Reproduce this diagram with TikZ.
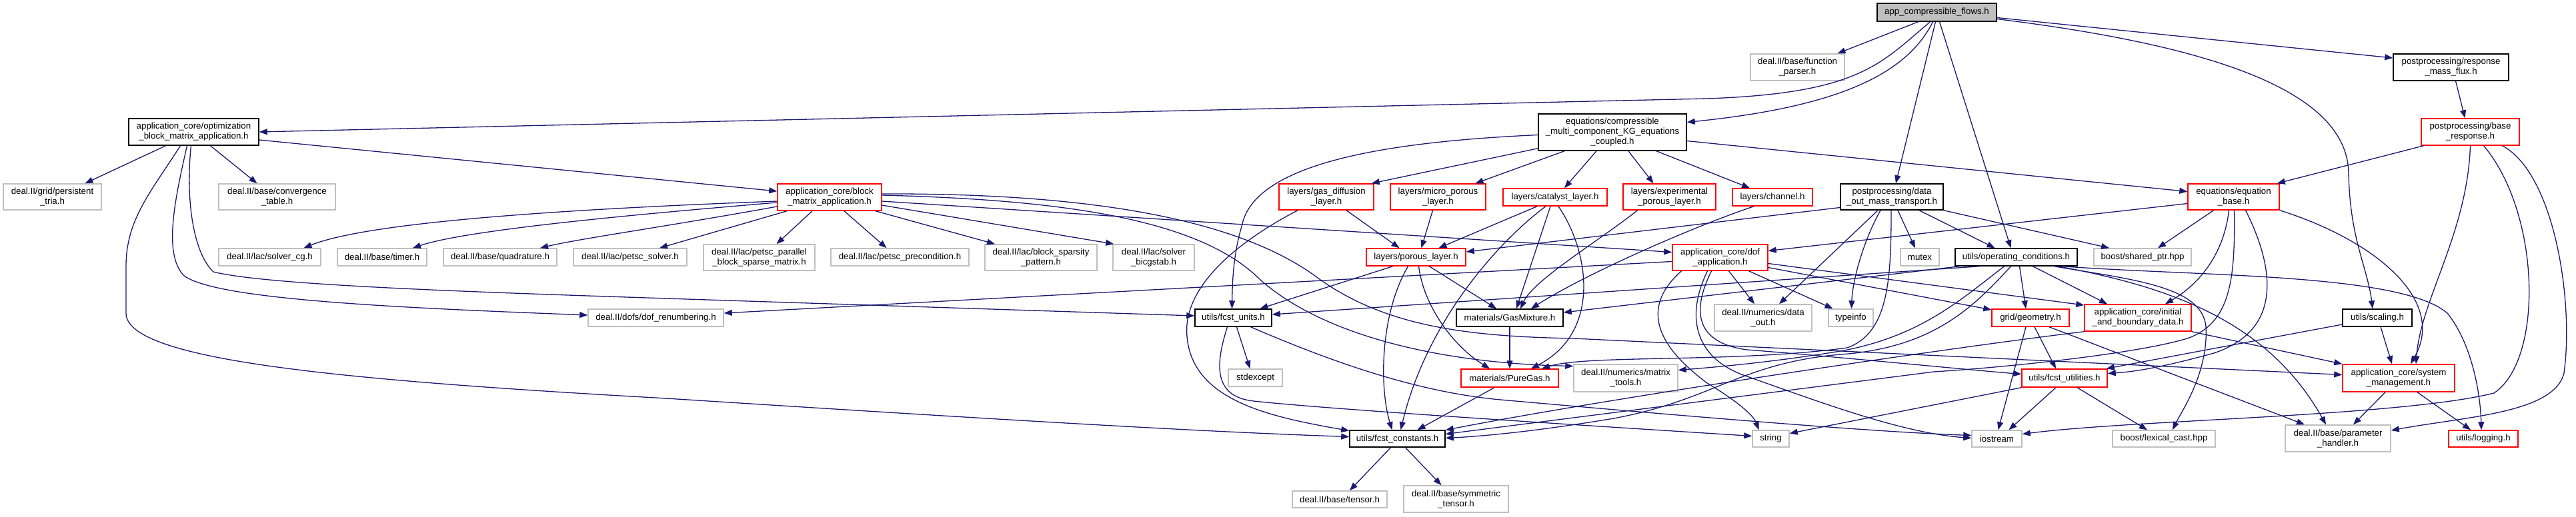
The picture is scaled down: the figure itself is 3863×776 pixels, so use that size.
\documentclass[tikz,border=0pt]{standalone}
\usepackage{fontspec}
\newfontfamily\dxfont{Liberation Sans}
\usetikzlibrary{arrows.meta}
\definecolor{edgeblue}{HTML}{191970}
\definecolor{greyline}{HTML}{BFBFBF}
\definecolor{rootfill}{HTML}{BFBFBF}
\definecolor{redline}{HTML}{FF0000}
\tikzset{
  bxbase/.style={draw, line width=1.5pt, fill=white, inner sep=0pt, align=center, font=\dxfont\fontsize{13.3}{15}\selectfont},
  bxblack/.style={bxbase, draw=black},
  bxred/.style={bxbase, draw=redline},
  bxgray/.style={bxbase, draw=greyline},
  bxroot/.style={bxbase, draw=black, fill=rootfill},
  dep/.style={draw=edgeblue, line width=1.3pt, -{Triangle[length=12pt,width=9pt]}}
}
\newcommand{\dbx}[6]{\node[#1, minimum width=#4pt, minimum height=#5pt] (#2) at (#3) {#6};}
\begin{document}
\begin{tikzpicture}[x=1pt,y=-1pt]
\fill[white] (0,0) rectangle (3863,776);
\useasboundingbox (0,0) rectangle (3863,776);
% nodes
\dbx{bxroot}{app}{2904.5,18.5}{179}{27}{app\_compressible\_flows.h}
\dbx{bxgray}{fp}{2695.5,101}{141}{40}{deal.II/base/function\\\_parser.h}
\dbx{bxblack}{optim}{290.5,198}{195}{40}{application\_core/optimization\\\_block\_matrix\_application.h}
\dbx{bxgray}{ptria}{78.5,295.5}{147}{39}{deal.II/grid/persistent\\\_tria.h}
\dbx{bxgray}{conv}{415.5,295.5}{175}{39}{deal.II/base/convergence\\\_table.h}
\dbx{bxred}{block}{1244,296}{156}{40}{application\_core/block\\\_matrix\_application.h}
\dbx{bxgray}{cg}{404.5,386}{153}{26}{deal.II/lac/solver\_cg.h}
\dbx{bxgray}{timer}{573,386}{134}{26}{deal.II/base/timer.h}
\dbx{bxgray}{quad}{750,386}{170}{26}{deal.II/base/quadrature.h}
\dbx{bxgray}{psolver}{945,386}{170}{26}{deal.II/lac/petsc\_solver.h}
\dbx{bxgray}{ppar}{1138.5,386.5}{167}{39}{deal.II/lac/petsc\_parallel\\\_block\_sparse\_matrix.h}
\dbx{bxgray}{pprec}{1349.5,386}{207}{26}{deal.II/lac/petsc\_precondition.h}
\dbx{bxgray}{bsp}{1561,386.5}{168}{39}{deal.II/lac/block\_sparsity\\\_pattern.h}
\dbx{bxgray}{bicg}{1730,386.5}{122}{39}{deal.II/lac/solver\\\_bicgstab.h}
\dbx{bxblack}{KG}{2418,198.5}{222}{55}{equations/compressible\\\_multi\_component\_KG\_equations\\\_coupled.h}
\dbx{bxred}{gdl}{1989,295.5}{142}{39}{layers/gas\_diffusion\\\_layer.h}
\dbx{bxred}{mpl}{2156.5,295.5}{143}{39}{layers/micro\_porous\\\_layer.h}
\dbx{bxred}{cat}{2332,296}{156}{26}{layers/catalyst\_layer.h}
\dbx{bxred}{exp}{2503.5,295.5}{139}{39}{layers/experimental\\\_porous\_layer.h}
\dbx{bxred}{chan}{2658,296}{120}{26}{layers/channel.h}
\dbx{bxblack}{dataout}{2837,295.5}{154}{39}{postprocessing/data\\\_out\_mass\_transport.h}
\dbx{bxgray}{mutex}{2879,386}{58}{26}{mutex}
\dbx{bxred}{porous}{2123.5,386}{149}{26}{layers/porous\_layer.h}
\dbx{bxred}{dofapp}{2579.5,386.5}{143}{39}{application\_core/dof\\\_application.h}
\dbx{bxblack}{rmf}{3675.5,101}{173}{40}{postprocessing/response\\\_mass\_flux.h}
\dbx{bxred}{baseresp}{3704.5,198}{147}{40}{postprocessing/base\\\_response.h}
\dbx{bxred}{eqbase}{3349.5,295.5}{137}{39}{equations/equation\\\_base.h}
\dbx{bxblack}{opcond}{3023.5,386}{183}{26}{utils/operating\_conditions.h}
\dbx{bxgray}{shared}{3213,386}{146}{26}{boost/shared\_ptr.hpp}
\dbx{bxgray}{dofren}{983.5,477}{203}{26}{deal.II/dofs/dof\_renumbering.h}
\dbx{bxblack}{units}{1849.5,477}{115}{26}{utils/fcst\_units.h}
\dbx{bxgray}{stdexcept}{1882.5,567}{81}{26}{stdexcept}
\dbx{bxblack}{gasmix}{2264,477}{160}{26}{materials/GasMixture.h}
\dbx{bxgray}{dataoutn}{2644,477}{146}{40}{deal.II/numerics/data\\\_out.h}
\dbx{bxgray}{typeinfo}{2775.5,477}{67}{26}{typeinfo}
\dbx{bxred}{puregas}{2264,567.5}{146}{27}{materials/PureGas.h}
\dbx{bxgray}{mtools}{2438,567.5}{156}{41}{deal.II/numerics/matrix\\\_tools.h}
\dbx{bxblack}{consts}{2095.5,658.5}{143}{25}{utils/fcst\_constants.h}
\dbx{bxgray}{string}{2655.5,658.5}{55}{25}{string}
\dbx{bxgray}{tensor}{2009,749.5}{142}{25}{deal.II/base/tensor.h}
\dbx{bxgray}{symtensor}{2183.5,749}{157}{40}{deal.II/base/symmetric\\\_tensor.h}
\dbx{bxred}{geometry}{3045,477}{116}{26}{grid/geometry.h}
\dbx{bxred}{initbd}{3206,477}{160}{40}{application\_core/initial\\\_and\_boundary\_data.h}
\dbx{bxblack}{scaling}{3565,477}{104}{26}{utils/scaling.h}
\dbx{bxred}{utilities}{3096,567.5}{128}{27}{utils/fcst\_utilities.h}
\dbx{bxred}{sysman}{3597,567.5}{168}{41}{application\_core/system\\\_management.h}
\dbx{bxgray}{iostream}{2994.5,658.5}{75}{25}{iostream}
\dbx{bxgray}{lexical}{3245,658.5}{154}{25}{boost/lexical\_cast.hpp}
\dbx{bxgray}{param}{3506,658}{158}{40}{deal.II/base/parameter\\\_handler.h}
\dbx{bxred}{logging}{3724,658.5}{104}{25}{utils/logging.h}
% app
\draw[dep] ([xshift=-28pt]app.south) -- ([xshift=60pt]fp.north);
\draw[dep] ([xshift=-10pt]app.south) .. controls (2820,95) and (2790,140) .. (2560,148) -- (optim.east);
\draw[dep] ([xshift=-6pt]app.south) .. controls (2860,110) and (2760,160) .. ([yshift=15pt]KG.east);
\draw[dep] ([xshift=-2pt]app.south) -- ([xshift=6pt]dataout.north);
\draw[dep] ([xshift=4pt]app.south) -- ([xshift=-8pt]opcond.north);
\draw[dep] ([yshift=-8pt]app.east) -- ([yshift=14pt]rmf.west);
\draw[dep] ([yshift=-10pt]app.east) .. controls (3330,70) and (3520,140) .. (3522,260) .. controls (3524,360) and (3550,400) .. ([xshift=-7pt]scaling.north);
% response
\draw[dep] ([xshift=7pt]rmf.south) -- ([xshift=-8pt]baseresp.north);
\draw[dep] ([xshift=-70pt]baseresp.south) -- ([xshift=-4pt]eqbase.north east);
\draw[dep] (baseresp.south) .. controls (3700,350) and (3630,450) .. ([xshift=26pt]sysman.north);
\draw[dep] ([xshift=20pt]baseresp.south) .. controls (3810,320) and (3815,540) .. (3740,590) .. controls (3600,625) and (3200,630) .. ([yshift=7pt]iostream.east);
\draw[dep] ([xshift=48pt]baseresp.south) .. controls (3830,260) and (3860,450) .. (3845,560) .. controls (3830,620) and (3700,625) .. ([yshift=12pt]param.east);
% KG
\draw[dep] ([yshift=4pt]KG.south west) -- ([xshift=-4pt]gdl.north east);
\draw[dep] ([xshift=-72pt]KG.south) -- ([xshift=56pt]mpl.north);
\draw[dep] ([xshift=-24pt]KG.south) -- ([xshift=14pt]cat.north);
\draw[dep] ([xshift=24pt]KG.south) -- ([xshift=-24pt]exp.north);
\draw[dep] ([xshift=66pt]KG.south) -- ([xshift=-34pt]chan.north);
\draw[dep] ([yshift=-13pt]KG.east) -- ([yshift=8pt]eqbase.west);
\draw[dep] ([yshift=-4pt]KG.west) .. controls (2100,212) and (1880,240) .. (1862,340) .. controls (1850,380) and (1848,420) .. ([xshift=-2pt]units.north);
% optim
\draw[dep] ([xshift=-42pt]optim.south) -- ([xshift=49pt]ptria.north);
\draw[dep] ([xshift=25pt]optim.south) -- ([xshift=-30pt]conv.north);
\draw[dep] ([yshift=-12pt]optim.east) -- ([yshift=9pt]block.west);
\draw[dep] ([xshift=-20pt]optim.south) .. controls (225,290) and (189,330) .. (189,400) -- (189,470) .. controls (189,540) and (500,570) .. (1000,598) .. controls (1500,630) and (1800,648) .. ([yshift=3pt]consts.west);
\draw[dep] ([xshift=-10pt]optim.south) .. controls (262,300) and (245,380) .. (275,413) .. controls (320,450) and (600,462) .. ([yshift=4pt]dofren.west);
\draw[dep] ([xshift=-4pt]optim.south) .. controls (278,300) and (290,380) .. (320,408) .. controls (400,428) and (700,438) .. (1000,448) -- ([yshift=3pt]units.west);
% block
\draw[dep] ([yshift=-6pt]block.west) .. controls (900,312) and (560,330) .. ([xshift=51pt]cg.north);
\draw[dep] ([yshift=-8pt]block.west) .. controls (950,322) and (700,345) .. ([xshift=46pt]timer.north);
\draw[dep] ([yshift=-14pt]block.west) .. controls (1000,340) and (870,358) .. ([xshift=60pt]quad.north);
\draw[dep] ([xshift=-64pt]block.south) -- ([xshift=44pt]psolver.north);
\draw[dep] ([xshift=-26pt]block.south) -- ([xshift=26pt]ppar.north);
\draw[dep] ([xshift=22pt]block.south) -- ([xshift=-20pt]pprec.north);
\draw[dep] ([xshift=69pt]block.south) -- ([xshift=-69pt]bsp.north);
\draw[dep] ([yshift=-12pt]block.east) -- ([xshift=2pt]bicg.north west);
\draw[dep] ([yshift=-6pt]block.east) -- ([yshift=8pt]dofapp.west);
\draw[dep] ([yshift=3pt]block.east) .. controls (1600,300) and (1800,330) .. (1890,420) .. controls (1980,500) and (2150,545) .. ([yshift=18pt]mtools.west);
\draw[dep] ([yshift=5pt]block.east) .. controls (1600,290) and (1850,320) .. (1980,420) .. controls (2080,490) and (2200,505) .. (2360,508) -- ([yshift=5pt]sysman.west);
% layers
\draw[dep] ([xshift=30pt]gdl.south) -- ([xshift=-25pt]porous.north);
\draw[dep] ([xshift=-43pt]gdl.south) .. controls (1880,350) and (1772,420) .. (1780,505) .. controls (1788,600) and (1900,625) .. ([yshift=12pt]consts.west);
\draw[dep] ([xshift=-8pt]mpl.south) -- ([xshift=8pt]porous.north);
\draw[dep] ([xshift=-27pt]cat.south) -- ([xshift=34pt]porous.north);
\draw[dep] ([xshift=-7pt]cat.south) -- ([xshift=10pt]gasmix.north);
\draw[dep] ([xshift=-14pt]cat.south) .. controls (2250,360) and (2140,480) .. ([xshift=5pt]consts.north);
\draw[dep] ([xshift=5pt]cat.south) .. controls (2385,380) and (2400,500) .. ([xshift=32pt]puregas.north);
\draw[dep] ([xshift=-48pt]exp.south) .. controls (2400,360) and (2300,420) .. ([xshift=16pt]gasmix.north);
\draw[dep] ([xshift=-28pt]chan.south) .. controls (2540,340) and (2380,410) .. ([xshift=32pt]gasmix.north);
% data out
\draw[dep] ([yshift=-16pt]dataout.west) -- ([yshift=8pt]porous.east);
\draw[dep] ([xshift=-21pt]dataout.south) -- ([xshift=24pt]dataoutn.north);
\draw[dep] ([xshift=-17pt]dataout.south) .. controls (2795,360) and (2778,420) .. ([xshift=1pt]typeinfo.north);
\draw[dep] ([xshift=9pt]dataout.south) -- ([xshift=-7pt]mutex.north);
\draw[dep] ([xshift=41pt]dataout.south) -- ([xshift=-32pt]opcond.north);
\draw[dep] (dataout.south east) -- ([xshift=-50pt]shared.north);
\draw[dep] ([xshift=-1pt]dataout.south) .. controls (2836,420) and (2832,500) .. (2770,522) .. controls (2600,545) and (2380,532) .. ([xshift=48pt]puregas.north);
% equation base
\draw[dep] ([yshift=-10pt]eqbase.west) -- ([yshift=10pt]dofapp.east);
\draw[dep] ([xshift=-30pt]eqbase.south) -- ([xshift=23pt]shared.north);
\draw[dep] ([xshift=-7pt]eqbase.south) .. controls (3335,380) and (3300,425) .. ([xshift=41pt]initbd.north);
\draw[dep] ([xshift=1pt]eqbase.south) .. controls (3352,420) and (3345,485) .. (3280,508) .. controls (3200,532) and (3000,552) .. (2900,558) -- ([yshift=7pt]consts.east);
\draw[dep] ([xshift=18pt]eqbase.south) .. controls (3410,400) and (3425,495) .. (3320,530) .. controls (3240,552) and (3200,558) .. ([yshift=7pt]utilities.east);
\draw[dep] (eqbase.south east) .. controls (3560,360) and (3670,450) .. ([xshift=18pt]sysman.north);
% initial data
\draw[dep] (initbd.south east) -- (sysman.north west);
\draw[dep] (initbd.south west) .. controls (2900,525) and (2400,600) .. ([yshift=13pt]consts.east);
% operating conditions
\draw[dep] ([xshift=-55pt]opcond.south) -- ([yshift=5pt]units.east);
\draw[dep] ([xshift=-85pt]opcond.south) -- ([yshift=8pt]gasmix.east);
\draw[dep] ([xshift=5pt]opcond.south) -- ([xshift=-7pt]geometry.north);
\draw[dep] ([xshift=25pt]opcond.south) -- ([xshift=-46pt]initbd.north);
\draw[dep] ([xshift=57pt]opcond.south) .. controls (3200,420) and (3302,430) .. (3308,490) .. controls (3312,560) and (3270,620) .. ([xshift=13pt]lexical.north);
\draw[dep] ([xshift=63pt]opcond.south) .. controls (3250,430) and (3400,480) .. ([xshift=-18pt]param.north);
\draw[dep] ([xshift=70pt]opcond.south) .. controls (3300,415) and (3600,410) .. (3670,470) .. controls (3710,520) and (3720,600) .. ([xshift=-3pt]logging.north);
\draw[dep] ([xshift=-18pt]opcond.south) .. controls (2940,450) and (2880,505) .. (2760,527) .. controls (2650,545) and (2560,552) .. ([yshift=12pt]mtools.east);
\draw[dep] ([xshift=-8pt]opcond.south) .. controls (2960,460) and (2900,522) .. (2760,532) .. controls (2610,545) and (2570,600) .. (2420,628) .. controls (2300,648) and (2220,655) .. ([yshift=1pt]consts.east);
% dof application
\draw[dep] ([yshift=-6pt]dofapp.west) -- ([yshift=7pt]dofren.east);
\draw[dep] ([xshift=13pt]dofapp.south) -- ([xshift=-13pt]dataoutn.north);
\draw[dep] ([xshift=43pt]dofapp.south) -- ([xshift=-27pt]typeinfo.north);
\draw[dep] ([yshift=-9pt]dofapp.east) -- ([yshift=19pt]initbd.west);
\draw[dep] ([yshift=-15pt]dofapp.east) -- ([yshift=12pt]geometry.west);
\draw[dep] ([xshift=-58pt]dofapp.south) .. controls (2450,470) and (2500,530) .. (2560,575) .. controls (2610,605) and (2630,625) .. ([xshift=-18pt]string.north);
\draw[dep] ([xshift=-19pt]dofapp.south) .. controls (2525,480) and (2545,540) .. (2620,565) .. controls (2720,600) and (2850,650) .. ([yshift=1pt]iostream.west);
\draw[dep] ([xshift=-13pt]dofapp.south) .. controls (2535,470) and (2545,515) .. (2620,525) .. controls (2750,535) and (2950,555) .. ([yshift=6pt]utilities.west);
% units
\draw[dep] ([xshift=5pt]units.south) -- ([xshift=-8pt]stdexcept.north);
\draw[dep] ([xshift=-9pt]units.south) .. controls (1825,540) and (1815,595) .. (1880,602) .. controls (2000,615) and (2400,640) .. ([yshift=4pt]string.west);
\draw[dep] ([xshift=26pt]units.south) .. controls (1990,540) and (2120,588) .. (2250,600) .. controls (2500,622) and (2800,648) .. ([yshift=5pt]iostream.west);
% materials, porous layer, constants
\draw[dep] (gasmix.south) -- (puregas.north);
\draw[dep] ([xshift=-35pt]porous.south) -- ([xshift=40pt]units.north);
\draw[dep] ([xshift=20pt]porous.south) -- ([xshift=-20pt]gasmix.north);
\draw[dep] ([xshift=4pt]porous.south) .. controls (2135,460) and (2180,520) .. ([xshift=-30pt]puregas.north);
\draw[dep] ([xshift=-12pt]porous.south) .. controls (2070,470) and (2068,580) .. ([xshift=-8pt]consts.north);
\draw[dep] ([xshift=-23pt]puregas.south) -- ([xshift=30pt]consts.north);
\draw[dep] ([xshift=-10pt]consts.south) -- ([xshift=15pt]tensor.north);
\draw[dep] ([xshift=12pt]consts.south) -- ([xshift=-22pt]symtensor.north);
% geometry, scaling, utilities, system management
\draw[dep] ([xshift=-7pt]geometry.south) -- ([xshift=2pt]iostream.north);
\draw[dep] ([xshift=6pt]geometry.south) -- ([xshift=-13pt]utilities.north);
\draw[dep] ([xshift=28pt]geometry.south) -- ([xshift=-50pt]param.north);
\draw[dep] ([xshift=5pt]scaling.south) -- ([xshift=-10pt]sysman.north);
\draw[dep] ([yshift=-10pt]scaling.west) -- ([xshift=-2pt]utilities.north east);
\draw[dep] ([xshift=-13pt]utilities.south) -- ([xshift=18pt]iostream.north);
\draw[dep] ([xshift=19pt]utilities.south) -- ([xshift=-25pt]lexical.north);
\draw[dep] (utilities.south west) -- ([yshift=8pt]string.east);
\draw[dep] ([xshift=-20pt]sysman.south) -- ([xshift=23pt]param.north);
\draw[dep] ([xshift=28pt]sysman.south) -- ([xshift=-19pt]logging.north);
\end{tikzpicture}
\end{document}
